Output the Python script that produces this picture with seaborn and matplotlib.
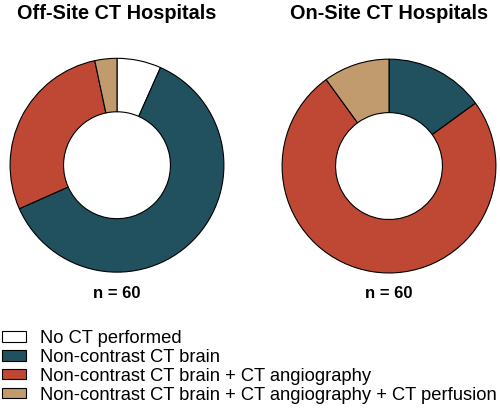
import seaborn as sns
import matplotlib
matplotlib.use("Agg")
import matplotlib.pyplot as plt
from matplotlib.patches import Patch

# 데이터
categories = [
    "No CT performed",
    "Non-contrast CT brain",
    "Non-contrast CT brain + CT angiography",
    "Non-contrast CT brain + CT angiography + CT perfusion",
]
off_site = [4, 37, 17, 2]
on_site = [0, 9, 45, 6]
titles = ["Off-Site CT Hospitals", "On-Site CT Hospitals"]
n_labels = ["n = 60", "n = 60"]

sns.set_theme(style="white")
plt.rcParams["font.family"] = ["Liberation Sans", "DejaVu Sans"]
plt.rcParams["text.color"] = "black"
colors = sns.color_palette(["#FFFFFF", "#21505F", "#BE4834", "#C19A6E"])

fig = plt.figure(figsize=(5, 4.09), dpi=100)

def draw_donut(rect, values, title, n_label, title_x):
    ax = fig.add_axes(rect)
    vals = [v for v in values if v > 0]
    cols = [c for v, c in zip(values, colors) if v > 0]
    ax.pie(vals, colors=cols, startangle=90, counterclock=False,
           wedgeprops=dict(width=0.5, edgecolor="black", linewidth=0.8))
    ax.set_xlim(-1.01, 1.01)
    ax.set_ylim(-1.01, 1.01)
    ax.set_aspect("equal")
    ax.axis("off")
    fig.text(title_x, 0.966, title, ha="center", va="center",
             fontsize=14.3, fontweight="bold")
    fig.text(title_x, 0.283, n_label, ha="center", va="center",
             fontsize=12, fontweight="bold")

draw_donut([0.018, 0.332, 0.432, 0.528], off_site, titles[0], n_labels[0], 0.234)
draw_donut([0.562, 0.330, 0.432, 0.528], on_site, titles[1], n_labels[1], 0.778)

handles = [Patch(facecolor=c, edgecolor="black", linewidth=0.8) for c in colors]
fig.legend(handles, categories, loc="upper left", bbox_to_anchor=(0.004, 0.193),
           frameon=False, fontsize=13.2, handlelength=1.3, handleheight=0.5,
           handletextpad=0.75, labelspacing=0.1, borderaxespad=0, borderpad=0)

fig.savefig("out.png", dpi=100)
